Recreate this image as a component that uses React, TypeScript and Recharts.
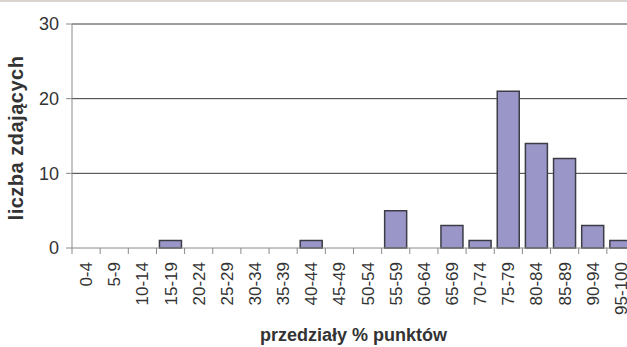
import React from 'react';
import { BarChart, Bar, XAxis, YAxis, CartesianGrid } from 'recharts';

// ranges of % points and number of students in each
const categories = [
  '0-4', '5-9', '10-14', '15-19', '20-24', '25-29', '30-34', '35-39', '40-44', '45-49',
  '50-54', '55-59', '60-64', '65-69', '70-74', '75-79', '80-84', '85-89', '90-94', '95-100',
];
const counts = [0, 0, 0, 1, 0, 0, 0, 0, 1, 0, 0, 5, 0, 3, 1, 21, 14, 12, 3, 1];
const yTicks = [0, 10, 20, 30];
const gridValues = [10, 20, 30];

const xTitle = 'przedziały % punktów';
const yTitle = 'liczba zdających';

const data = categories.map((range, i) => ({ range, count: counts[i] }));

const font = '"Liberation Sans", Arial, sans-serif';
const axisGray = '#8a8a8a';
const textColor = '#333333';

const RangeTick = (props: any) => {
  const { x, y, payload, width } = props;
  const step = width / categories.length;
  const left = x - step / 2;
  const tx = x + 6;
  const ty = y + 14;
  return (
    <g>
      <line x1={left} y1={y} x2={left} y2={y + 6} stroke={axisGray} />
      <text
        x={tx}
        y={ty}
        transform={`rotate(-90 ${tx} ${ty})`}
        textAnchor="end"
        fontSize={17}
        fill={textColor}
        fontFamily={font}
      >
        {payload.value}
      </text>
    </g>
  );
};

const XTitle = (props: any) => {
  const { x, y, width } = props.viewBox;
  return (
    <text x={x + width / 2} y={y + 93} textAnchor="middle" fontSize={18} fontWeight="bold" fill={textColor} fontFamily={font}>
      {xTitle}
    </text>
  );
};

const YTitle = (props: any) => {
  const { x, y, height } = props.viewBox;
  const tx = x + 23;
  const ty = y + height / 2 + 2;
  return (
    <text
      x={tx}
      y={ty}
      transform={`rotate(-90 ${tx} ${ty})`}
      textAnchor="middle"
      fontSize={20}
      letterSpacing={0.5}
      fontWeight="bold"
      fill={textColor}
      fontFamily={font}
    >
      {yTitle}
    </text>
  );
};

export default function App() {
  return (
    <div style={{ position: 'fixed', left: 0, top: 0, width: 627, height: 347, overflow: 'hidden', background: '#fff' }}>
      <div style={{ position: 'absolute', left: 0, top: 0, width: 627, height: 2, background: '#d9d4cf' }} />
      <BarChart
        width={640}
        height={347}
        data={data}
        margin={{ top: 24, right: 5, bottom: 0, left: 0 }}
        barCategoryGap={3}
      >
        <CartesianGrid horizontal vertical={false} horizontalValues={gridValues} stroke="#3a3a3a" />
        <XAxis
          dataKey="range"
          interval={0}
          height={99}
          stroke={axisGray}
          tickLine={false}
          tickSize={0}
          tickMargin={0}
          tick={<RangeTick />}
          label={XTitle}
        />
        <YAxis
          domain={[0, 30]}
          ticks={yTicks}
          width={72}
          stroke={axisGray}
          tickSize={6}
          tickMargin={7}
          tick={{ fontSize: 18, fill: textColor, fontFamily: font }}
          label={YTitle}
        />
        <Bar dataKey="count" fill="#9b96c8" stroke="#3c3c46" strokeWidth={1.5} isAnimationActive={false} />
      </BarChart>
    </div>
  );
}
